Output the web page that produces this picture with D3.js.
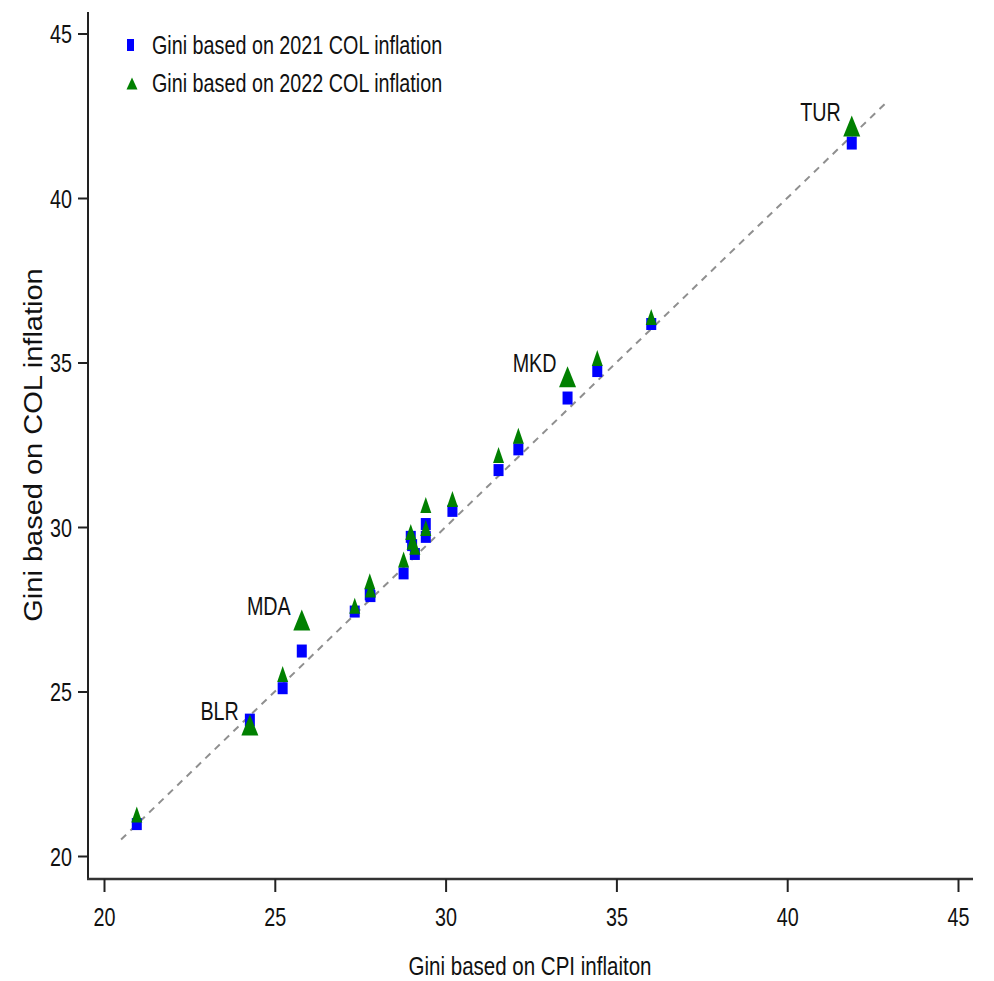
<!DOCTYPE html>
<html>
<head>
<meta charset="utf-8">
<script src="https://cdn.jsdelivr.net/npm/d3@7"></script>
<style>
  body { margin: 0; background: #fff; }
  text { font-family: "Liberation Sans", Arial, sans-serif; fill: #111; }
</style>
</head>
<body>
<svg id="chart" width="994" height="981"></svg>
<script>
// Gini values
const cpiGini  = [20.96, 24.27, 25.23, 25.79, 27.34, 27.78, 27.80, 28.77, 28.98, 29.02, 29.10, 29.42, 29.42, 30.20, 31.55, 32.13, 33.57, 34.44, 36.02, 41.89];
const col2021  = [20.97, 24.13, 25.10, 26.23, 27.43, 27.95, 27.90, 28.59, 29.70, 29.45, 29.18, 29.70, 30.09, 30.49, 31.73, 32.36, 33.92, 34.74, 36.17, 41.67];
const col2022  = [21.26, 23.98, 25.53, 27.17, 27.61, 28.35, 28.10, 29.01, 29.85, 29.55, 29.40, 29.97, 30.67, 30.85, 32.19, 32.77, 34.57, 35.14, 36.38, 42.19];
const countryLabels = ["", "BLR", "", "MDA", "", "", "", "", "", "", "", "", "", "", "", "", "MKD", "", "", "TUR"];

const tickValues = [20, 25, 30, 35, 40, 45];
const refLine = [20.5, 42.9];
const legendLabels = ["Gini based on 2021 COL inflation", "Gini based on 2022 COL inflation"];
const xTitle = "Gini based on CPI inflaiton";
const yTitle = "Gini based on COL inflation";

const SX = 0.76; // picture is horizontally squeezed
const svg = d3.select("#chart");

// Build point records
const points = cpiGini.map((v, i) => ({ cpi: v, c21: col2021[i], c22: col2022[i], label: countryLabels[i] }));

// Scales
const x = d3.scaleLinear().domain([20, 45]).range([104, 958]);
const y = d3.scaleLinear().domain([20, 45]).range([856, 33.5]);

// Axis frame lines
svg.append("line").attr("x1", 88).attr("x2", 88).attr("y1", 12).attr("y2", 880)
    .attr("stroke", "#222").attr("stroke-width", 2);
svg.append("line").attr("x1", 87).attr("x2", 973).attr("y1", 879).attr("y2", 879)
    .attr("stroke", "#333").attr("stroke-width", 2.5);

// X axis
const gx = svg.append("g")
    .attr("transform", "translate(0,879)")
    .call(d3.axisBottom(x).tickValues(tickValues).tickSize(13).tickPadding(16).tickFormat(d3.format("d")));
gx.select(".domain").remove();
gx.selectAll(".tick line").attr("stroke", "#222").attr("stroke-width", 2);
gx.selectAll("text")
    .style("font-size", "26px")
    .attr("fill", "#111")
    .attr("transform", `scale(${SX},1)`);

// Y axis
const gy = svg.append("g")
    .attr("transform", "translate(88,0)")
    .call(d3.axisLeft(y).tickValues(tickValues).tickSize(10).tickPadding(6).tickFormat(d3.format("d")));
gy.select(".domain").remove();
gy.selectAll(".tick line").attr("stroke", "#222").attr("stroke-width", 2);
gy.selectAll("text")
    .style("font-size", "26px")
    .attr("fill", "#111")
    .attr("x", -16 / SX)
    .attr("dy", "0.36em")
    .attr("transform", `scale(${SX},1)`);

// 45 degree reference line
svg.append("line")
    .attr("x1", x(refLine[0])).attr("y1", y(refLine[0]))
    .attr("x2", x(refLine[1])).attr("y2", y(refLine[1]))
    .attr("stroke", "#8f8f8f")
    .attr("stroke-width", 2)
    .attr("stroke-dasharray", "7,6");

// Marker helpers (sizes in px, width x height)
function squareSize(d) { return d.label ? [10, 13] : [10, 12]; }
function triSize(d) { return d.label ? [17, 21] : [11, 16]; }
function triPath(cx, cy, w, h) {
    return `M${cx},${cy - h / 2}L${cx + w / 2},${cy + h / 2}L${cx - w / 2},${cy + h / 2}Z`;
}

// 2021 squares
svg.append("g").selectAll("rect")
    .data(points)
    .enter().append("rect")
    .attr("x", d => x(d.cpi) - squareSize(d)[0] / 2)
    .attr("y", d => y(d.c21) - squareSize(d)[1] / 2)
    .attr("width", d => squareSize(d)[0])
    .attr("height", d => squareSize(d)[1])
    .attr("fill", "#0000ff");

// 2022 triangles
svg.append("g").selectAll("path")
    .data(points)
    .enter().append("path")
    .attr("d", d => triPath(x(d.cpi), y(d.c22), triSize(d)[0], triSize(d)[1]))
    .attr("fill", "#008000");

// Country labels
svg.append("g").selectAll("text")
    .data(points.filter(d => d.label))
    .enter().append("text")
    .attr("transform", d => `translate(${x(d.cpi) - 11},${y(d.c22) - 5}) scale(${SX},1)`)
    .attr("text-anchor", "end")
    .style("font-size", "26px")
    .text(d => d.label);

// Legend
const legend = svg.append("g");
legend.append("rect")
    .attr("x", 127).attr("y", 39).attr("width", 7).attr("height", 12)
    .attr("fill", "#0000ff");
legend.append("path")
    .attr("d", triPath(132, 83.5, 11, 12))
    .attr("fill", "#008000");
legend.selectAll("text")
    .data(legendLabels)
    .enter().append("text")
    .attr("transform", (d, i) => `translate(152,${54 + i * 38}) scale(${SX},1)`)
    .style("font-size", "26px")
    .text(d => d);

// Axis titles
svg.append("text")
    .attr("transform", `translate(530,975) scale(0.79,1)`)
    .attr("text-anchor", "middle")
    .style("font-size", "26px")
    .text(xTitle);

svg.append("text")
    .attr("transform", "translate(42,445) rotate(-90) scale(1,0.88)")
    .attr("text-anchor", "middle")
    .style("font-size", "29px")
    .text(yTitle);
</script>
</body>
</html>
